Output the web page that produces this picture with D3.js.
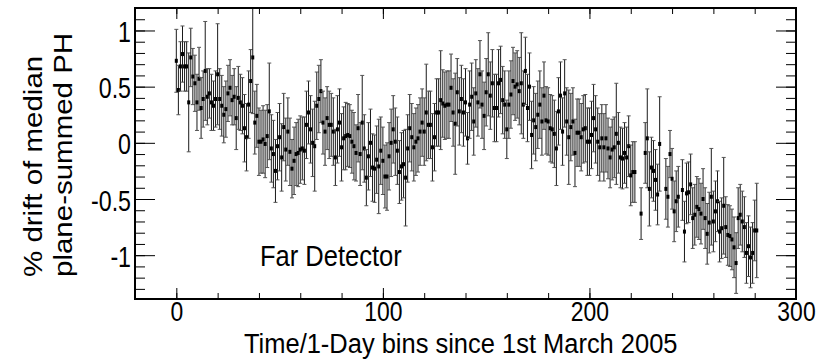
<!DOCTYPE html>
<html>
<head>
<meta charset="utf-8">
<script src="https://cdn.jsdelivr.net/npm/d3@7"></script>
<style>
  html, body { margin: 0; padding: 0; background: #fff; }
  svg { display: block; }
  text { font-family: "Liberation Sans", Arial, Helvetica, sans-serif; fill: #000; }
</style>
</head>
<body>
<svg id="chart" width="829" height="364"></svg>
<script>
// ---- data ----
const days = [0,1,2,3,4,5,6,7,8,9,10,11,12,13,14,15,16,17,18,19,20,21,22,23,24,25,26,27,28,29,30,31,32,33,34,35,36,37,38,39,40,41,42,43,44,45,46,47,48,49,50,51,52,53,54,55,56,57,58,59,60,61,62,63,64,65,66,67,68,69,70,
71,72,73,74,75,76,77,78,79,80,81,82,83,84,85,86,87,88,89,90,91,92,93,94,95,96,97,98,99,100,101,102,103,104,105,106,107,108,109,110,111,112,113,114,115,116,117,118,119,120,121,122,123,124,125,126,127,128,129,130,131,132,133,134,135,136,137,138,
139,140,141,142,143,144,145,146,147,148,149,150,151,152,153,154,155,156,157,158,159,160,161,162,163,164,165,166,167,168,169,170,171,172,173,174,175,176,177,178,179,180,181,182,183,184,185,186,187,188,189,190,191,192,193,194,195,196,197,198,199,200,201,202,203,204,205,206,207,208,
209,210,211,212,213,214,215,216,217,218,219,220,221,222,225,227,228,229,230,231,232,233,234,237,238,239,240,241,242,243,245,246,247,248,249,250,251,252,253,254,255,256,257,258,259,260,261,262,263,264,265,266,267,268,269,270,271,272,273,274,275,276,277,278,279,280,281];

const drift = [0.73,0.47,0.68,0.79,0.68,0.68,0.36,0.76,0.59,0.53,0.36,0.57,0.31,0.39,0.64,0.41,0.44,0.36,0.33,0.39,0.61,0.39,0.33,0.25,0.30,0.44,0.49,0.38,0.41,0.22,0.40,0.36,0.33,0.13,0.05,0.34,0.55,0.76,0.18,0.24,0.01,0.01,0.03,-0.01,0.06,0.28,-0.05,-0.10,-0.25,-0.03,0.05,-0.13,0.14,-0.06,0.10,-0.08,-0.23,-0.16,-0.10,-0.09,-0.06,-0.05,-0.07,0.16,0.27,0.12,0.00,-0.03,0.33,0.39,0.46,
0.18,0.10,0.22,0.16,0.16,0.10,-0.13,0.12,0.18,-0.04,0.04,0.06,0.07,0.06,0.01,-0.03,-0.09,0.13,-0.10,0.18,-0.05,-0.31,-0.12,0.00,-0.22,-0.23,-0.15,-0.21,-0.07,-0.16,-0.30,-0.30,-0.12,0.00,0.12,0.01,-0.07,-0.26,-0.21,-0.19,-0.31,-0.05,0.13,0.05,-0.04,0.01,0.04,0.10,0.18,0.10,0.27,0.16,0.16,-0.04,0.05,0.27,0.27,0.38,0.35,0.33,0.34,0.34,0.49,0.27,0.17,0.45,0.28,0.39,
0.27,0.36,0.04,0.34,0.41,0.19,0.44,0.36,0.61,0.34,0.24,0.45,0.61,0.42,0.53,0.31,0.31,0.53,0.56,0.38,0.34,0.12,0.34,0.43,0.55,0.50,0.52,0.46,0.53,0.34,0.64,0.31,0.50,0.07,0.20,0.14,0.25,0.34,0.19,0.42,0.20,0.19,0.13,0.12,0.08,-0.05,0.28,0.42,0.10,0.44,0.19,0.05,0.14,0.19,-0.09,0.09,0.09,0.05,0.12,0.13,0.01,0.01,0.07,0.22,0.12,0.01,-0.04,0.04,-0.04,0.04,
-0.05,-0.13,-0.06,-0.04,0.08,0.00,-0.13,-0.14,-0.09,-0.13,-0.03,-0.29,-0.26,-0.26,-0.63,-0.09,0.04,-0.41,-0.22,-0.25,-0.33,-0.46,-0.01,-0.41,-0.48,-0.10,-0.32,-0.61,-0.52,-0.48,-0.42,-0.79,-0.45,-0.44,-0.37,-0.67,-0.64,-0.57,-0.59,-0.63,-0.50,-0.67,-0.81,-0.71,-0.48,-0.70,-0.61,-0.52,-0.79,-0.76,-0.56,-0.75,-0.82,-0.83,-0.86,-0.93,-1.07,-0.67,-0.64,-0.70,-0.75,-0.98,-0.92,-1.02,-0.98,-0.78,-0.78];

const errs = [0.28,0.22,0.22,0.25,0.22,0.22,0.44,0.26,0.25,0.25,0.25,0.28,0.27,0.25,0.44,0.25,0.22,0.25,0.22,0.25,0.45,0.27,0.27,0.25,0.25,0.25,0.25,0.22,0.25,0.28,0.28,0.25,0.25,0.30,0.30,0.30,0.28,0.50,0.28,0.28,0.30,0.28,0.30,0.30,0.28,0.43,0.30,0.30,0.28,0.30,0.30,0.30,0.30,0.28,0.30,0.30,0.26,0.30,0.28,0.30,0.30,0.28,0.30,0.30,0.28,0.30,0.30,0.40,0.30,0.30,0.28,
0.28,0.30,0.28,0.30,0.28,0.30,0.25,0.30,0.30,0.30,0.28,0.30,0.28,0.28,0.28,0.30,0.25,0.30,0.28,0.42,0.30,0.25,0.30,0.30,0.30,0.30,0.30,0.42,0.30,0.30,0.28,0.30,0.30,0.30,0.30,0.30,0.30,0.28,0.30,0.30,0.43,0.30,0.30,0.30,0.30,0.30,0.30,0.30,0.30,0.30,0.43,0.30,0.30,0.30,0.30,0.30,0.30,0.44,0.30,0.30,0.30,0.30,0.30,0.30,0.45,0.30,0.30,0.30,
0.30,0.30,0.23,0.30,0.30,0.30,0.30,0.30,0.30,0.30,0.30,0.30,0.37,0.30,0.30,0.30,0.30,0.30,0.30,0.30,0.30,0.26,0.30,0.30,0.30,0.30,0.30,0.30,0.45,0.30,0.30,0.30,0.30,0.30,0.30,0.30,0.30,0.30,0.30,0.30,0.30,0.30,0.30,0.30,0.30,0.33,0.30,0.30,0.30,0.30,0.30,0.42,0.30,0.30,0.30,0.30,0.30,0.30,0.30,0.30,0.30,0.30,0.30,0.30,0.30,0.30,0.30,0.30,0.30,0.30,
0.27,0.27,0.27,0.27,0.45,0.27,0.27,0.27,0.27,0.27,0.27,0.27,0.27,0.27,0.23,0.27,0.44,0.33,0.27,0.27,0.27,0.27,0.42,0.27,0.27,0.21,0.27,0.27,0.27,0.27,0.27,0.27,0.27,0.27,0.27,0.27,0.27,0.27,0.27,0.27,0.27,0.27,0.27,0.27,0.43,0.27,0.27,0.27,0.27,0.27,0.43,0.27,0.27,0.27,0.27,0.27,0.27,0.27,0.27,0.27,0.27,0.27,0.27,0.27,0.27,0.27,0.42];

const xMajorTicks = [0, 100, 200, 300];
const yMajorTicks = [-1, -0.5, 0, 0.5, 1];
const xTitle = "Time/1-Day bins since 1st March 2005";
const yTitleLines = ["% drift of median", "plane-summed PH"];
const label = "Far Detector";

// ---- layout ----
const L = 135, R = 796, T = 8, B = 299;
const svg = d3.select("#chart");
const x = d3.scaleLinear().domain([-20, 300]).range([L, R]);
const y = d3.scaleLinear().domain([-1.39, 1.2]).range([B, T]);

const data = days.map((d, i) => ({ d, v: drift[i], e: errs[i] }));

svg.append("defs").append("clipPath").attr("id", "clip")
  .append("rect").attr("x", L).attr("y", T).attr("width", R - L).attr("height", B - T);

// ---- points with error bars ----
const pts = svg.append("g").attr("clip-path", "url(#clip)");
const g = pts.selectAll("g.pt").data(data).join("g").attr("class", "pt");
g.append("line")
  .attr("x1", p => x(p.d)).attr("x2", p => x(p.d))
  .attr("y1", p => y(p.v + p.e)).attr("y2", p => y(p.v - p.e))
  .attr("stroke", "#1a1a1a").attr("stroke-width", 1);
g.append("line")
  .attr("x1", p => x(p.d) - 2).attr("x2", p => x(p.d) + 2)
  .attr("y1", p => y(p.v + p.e)).attr("y2", p => y(p.v + p.e))
  .attr("stroke", "#555").attr("stroke-width", 1);
g.append("line")
  .attr("x1", p => x(p.d) - 2).attr("x2", p => x(p.d) + 2)
  .attr("y1", p => y(p.v - p.e)).attr("y2", p => y(p.v - p.e))
  .attr("stroke", "#555").attr("stroke-width", 1);
g.append("rect")
  .attr("x", p => x(p.d) - 1.5).attr("y", p => y(p.v) - 2)
  .attr("width", 3).attr("height", 4).attr("fill", "#000");

// ---- axes (ticks inward, ROOT style) ----
const xMinor = d3.range(-20, 301, 20);
const yMinor = d3.range(-13, 13).map(v => v / 10);

function styleAxis(sel) {
  sel.select(".domain").remove();
  sel.selectAll(".tick line").attr("stroke", "#000").attr("stroke-width", 1);
}
// minor ticks
svg.append("g").attr("transform", `translate(0,${B})`)
  .call(d3.axisBottom(x).tickValues(xMinor).tickSize(-6).tickFormat("")).call(styleAxis);
svg.append("g").attr("transform", `translate(0,${T})`)
  .call(d3.axisTop(x).tickValues(xMinor).tickSize(-6).tickFormat("")).call(styleAxis);
svg.append("g").attr("transform", `translate(${L},0)`)
  .call(d3.axisLeft(y).tickValues(yMinor).tickSize(-10).tickFormat("")).call(styleAxis);
svg.append("g").attr("transform", `translate(${R},0)`)
  .call(d3.axisRight(y).tickValues(yMinor).tickSize(-10).tickFormat("")).call(styleAxis);
// major ticks
const xb = svg.append("g").attr("transform", `translate(0,${B})`)
  .call(d3.axisBottom(x).tickValues(xMajorTicks).tickSize(-11).tickPadding(0).tickFormat(d => String(d))).call(styleAxis);
svg.append("g").attr("transform", `translate(0,${T})`)
  .call(d3.axisTop(x).tickValues(xMajorTicks).tickSize(-11).tickFormat("")).call(styleAxis);
const yl = svg.append("g").attr("transform", `translate(${L},0)`)
  .call(d3.axisLeft(y).tickValues(yMajorTicks).tickSize(-20).tickPadding(0).tickFormat(d => String(d))).call(styleAxis);
svg.append("g").attr("transform", `translate(${R},0)`)
  .call(d3.axisRight(y).tickValues(yMajorTicks).tickSize(-20).tickFormat("")).call(styleAxis);

xb.selectAll(".tick text")
  .attr("x", null).attr("y", null).attr("dy", null)
  .attr("font-size", 27).attr("text-anchor", "middle")
  .attr("transform", "translate(0,22) scale(0.85,1)");
yl.selectAll(".tick text")
  .attr("x", null).attr("y", null).attr("dy", null)
  .attr("font-size", 29).attr("text-anchor", "end")
  .attr("transform", "translate(-4,11) scale(0.8,1)");
svg.selectAll(".tick text").attr("font-family", null).attr("fill", "#000");

// frame
svg.append("rect").attr("x", L).attr("y", T).attr("width", R - L).attr("height", B - T)
  .attr("fill", "none").attr("stroke", "#000").attr("stroke-width", 2);

// ---- texts ----
svg.append("text").text(xTitle)
  .attr("font-size", 28)
  .attr("transform", `translate(244,353) scale(0.91,1)`);

svg.append("text").text(label)
  .attr("font-size", 29)
  .attr("transform", `translate(260,266) scale(0.88,1)`);

yTitleLines.forEach((t, i) => {
  svg.append("text").text(t)
    .attr("font-size", 29.5)
    .attr("transform", `translate(${42 + i * 30},277) scale(0.88,1) rotate(-90)`);
});
</script>
</body>
</html>
